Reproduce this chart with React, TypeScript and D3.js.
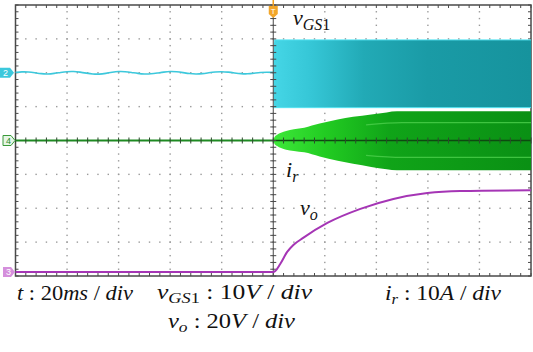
import React from "react";
import * as d3 from "d3";

// Screen geometry: 10 horizontal divisions x 8 vertical divisions
const W = 533;
const H = 352;
const L = 15.5;
const R = 531;
const T = 5;
const B = 276;

// Time base: 20 ms/div, trigger at the centre (100 ms)
const timeDomain = [0, 200];
const triggerTime = 100;

// Channel settings (offset in divisions, units per division)
const ch2 = { offset: 2.0, perDiv: 10 }; // vGS1, 10 V/div
const ch4 = { offset: 0.0, perDiv: 10 }; // ir, 10 A/div
const ch3 = { offset: -3.88, perDiv: 20 }; // vo, 20 V/div

// vGS1 before start-up: small ripple around 0 V (time in ms, value in V)
const vgsRippleT = [0, 2.5, 5, 7.5, 10, 12.5, 15, 17.5, 20, 22.5, 25, 27.5, 30, 32.5, 35, 37.5, 40, 42.5, 45, 47.5, 50, 52.5, 55, 57.5, 60, 62.5, 65, 67.5, 70, 72.5, 75, 77.5, 80, 82.5, 85, 87.5, 90, 92.5, 95, 97.5, 100];
const vgsRippleV = [0.1, 0.3, 0.25, 0.0, -0.3, -0.4, -0.2, 0.1, 0.35, 0.4, 0.2, -0.1, -0.4, -0.45, -0.2, 0.15, 0.4, 0.35, 0.1, -0.2, -0.4, -0.35, -0.1, 0.2, 0.4, 0.3, 0.05, -0.25, -0.4, -0.3, 0.0, 0.25, 0.35, 0.2, -0.05, -0.3, -0.35, -0.15, 0.1, 0.2, 0.1];

// vGS1 after start-up: switching band, high and low levels (V)
const vgsBandT = [100, 100.4, 200];
const vgsBandHigh = [6.0, 9.7, 9.7];
const vgsBandLow = [-7.0, -10.3, -10.3];

// ir envelope after start-up (time in ms, current in A)
const irT = [0, 100, 100.5, 101.5, 103, 105, 108, 112, 118, 125, 131, 138, 144, 148, 200];
const irUpper = [0, 0, 1.0, 1.7, 2.3, 2.8, 3.3, 3.8, 5.0, 6.2, 7.0, 7.7, 8.3, 8.6, 8.6];
const irLower = [0, 0, -1.0, -1.6, -2.2, -2.7, -3.1, -3.5, -4.7, -6.0, -6.9, -7.8, -8.5, -8.8, -8.8];

// Lighter inner traces inside the ir band
const irInnerT = [136, 150, 200];
const irInnerUpper = [4.6, 5.3, 5.3];
const irInnerLower = [-4.4, -5.0, -5.0];

// Output voltage vo (time in ms, value in V)
const voT = [0, 100, 100.8, 102.7, 105.4, 107.8, 111.6, 121, 133.8, 146.6, 159.8, 172.6, 200];
const voV = [0, 0, 0.6, 4.7, 11.8, 15.9, 20.1, 28.9, 37.2, 43.1, 46.6, 47.8, 48.2];

const FONT = "'Liberation Serif', 'Times New Roman', serif";

export default function App() {
  const x = d3.scaleLinear().domain(timeDomain).range([L, R]);
  const yDiv = d3.scaleLinear().domain([-4, 4]).range([B, T]);
  const yCh = (ch: { offset: number; perDiv: number }) => (v: number) =>
    yDiv(ch.offset + v / ch.perDiv);
  const y2 = yCh(ch2);
  const y4 = yCh(ch4);
  const y3 = yCh(ch3);

  const xTrig = x(triggerTime);
  const yMid = yDiv(0);

  // Grid: dotted lines at each division, dots every 1/5 division
  const divX = d3.range(0, 11).map((i) => L + (i * (R - L)) / 10);
  const divY = d3.range(0, 9).map((i) => T + (i * (B - T)) / 8);
  const minorX = d3.range(0, 51).map((i) => L + (i * (R - L)) / 50);
  const minorY = d3.range(0, 41).map((i) => T + (i * (B - T)) / 40);

  const gridDots: JSX.Element[] = [];
  divY.slice(1, -1).forEach((gy, j) => {
    minorX.slice(1, -1).forEach((mx, i) => {
      gridDots.push(<rect key={`h${j}-${i}`} x={mx - 0.7} y={gy - 0.7} width={1.4} height={1.4} fill="#9a9a9a" />);
    });
  });
  divX.slice(1, -1).forEach((gx, j) => {
    minorY.slice(1, -1).forEach((my, i) => {
      gridDots.push(<rect key={`v${j}-${i}`} x={gx - 0.7} y={my - 0.7} width={1.4} height={1.4} fill="#9a9a9a" />);
    });
  });

  const ripple = d3
    .line<number>()
    .x((_, i) => x(vgsRippleT[i]))
    .y((d) => y2(d))
    .curve(d3.curveBasis)(vgsRippleV);

  const vgsArea = d3
    .area<number>()
    .x((_, i) => x(vgsBandT[i]))
    .y0((_, i) => y2(vgsBandLow[i]))
    .y1((d) => y2(d))(vgsBandHigh);

  const irArea = d3
    .area<number>()
    .x((_, i) => x(irT[i]))
    .y0((_, i) => y4(irLower[i]))
    .y1((d) => y4(d))
    .curve(d3.curveMonotoneX)(irUpper);

  const innerLine = (vals: number[]) =>
    d3
      .line<number>()
      .x((_, i) => x(irInnerT[i]))
      .y((d) => y4(d))
      .curve(d3.curveMonotoneX)(vals);

  const voLine = d3
    .line<number>()
    .x((_, i) => x(voT[i]))
    .y((d) => y3(d))
    .curve(d3.curveMonotoneX)(voV);

  return (
    <svg width={W} height={H} style={{ display: "block", position: "absolute", left: 0, top: 0, background: "#fff" }}>
      <defs>
        <linearGradient id="cyanGrad" gradientUnits="userSpaceOnUse" x1={xTrig} x2={R} y1={0} y2={0}>
          <stop offset="0" stopColor="#45d6e6" />
          <stop offset="0.15" stopColor="#35c6d6" />
          <stop offset="0.35" stopColor="#22aab6" />
          <stop offset="0.6" stopColor="#1a9ba6" />
          <stop offset="1" stopColor="#16939d" />
        </linearGradient>
        <linearGradient id="greenGrad" gradientUnits="userSpaceOnUse" x1={xTrig} x2={R} y1={0} y2={0}>
          <stop offset="0" stopColor="#3ee83a" />
          <stop offset="0.2" stopColor="#22cc22" />
          <stop offset="0.45" stopColor="#10a418" />
          <stop offset="1" stopColor="#0a9014" />
        </linearGradient>
      </defs>

      {gridDots}

      {/* border */}
      <rect x={L} y={T} width={R - L} height={B - T} fill="none" stroke="#4a4a4a" strokeWidth={1.5} />
      {/* border ticks */}
      {minorX.map((mx, i) => (
        <g key={`bt${i}`}>
          <line x1={mx} x2={mx} y1={T} y2={T + 3} stroke="#4a4a4a" strokeWidth={1} />
          <line x1={mx} x2={mx} y1={B} y2={B - 3} stroke="#4a4a4a" strokeWidth={1} />
        </g>
      ))}
      {minorY.map((my, i) => (
        <g key={`bl${i}`}>
          <line x1={L} x2={L + 3} y1={my} y2={my} stroke="#4a4a4a" strokeWidth={1} />
          <line x1={R} x2={R - 3} y1={my} y2={my} stroke="#4a4a4a" strokeWidth={1} />
        </g>
      ))}

      {/* vGS1 trace */}
      <path d={ripple || ""} fill="none" stroke="#3cc8dc" strokeWidth={1.6} />
      <path d={vgsArea || ""} fill="url(#cyanGrad)" />
      <line x1={xTrig} x2={R} y1={y2(9.7)} y2={y2(9.7)} stroke="#55e4f2" strokeWidth={1} />
      <line x1={xTrig} x2={R} y1={y2(-10.3)} y2={y2(-10.3)} stroke="#55e4f2" strokeWidth={1} />

      {/* ir trace */}
      <path d={irArea || ""} fill="url(#greenGrad)" />
      <path d={innerLine(irInnerUpper) || ""} fill="none" stroke="#4cd04c" strokeWidth={1.2} opacity={0.8} />
      <path d={innerLine(irInnerLower) || ""} fill="none" stroke="#4cd04c" strokeWidth={1.2} opacity={0.8} />
      <line x1={L} x2={xTrig} y1={y4(0)} y2={y4(0)} stroke="#1e8a22" strokeWidth={2} />
      <line x1={xTrig} x2={R} y1={y4(0)} y2={y4(0)} stroke="#0d4a10" strokeWidth={1.5} />

      {/* centre axes with minor ticks */}
      <line x1={xTrig} x2={xTrig} y1={T} y2={B} stroke="#4a4a4a" strokeWidth={1} />
      {minorY.map((my, i) => (
        <line key={`cy${i}`} x1={xTrig - 3} x2={xTrig + 3} y1={my} y2={my} stroke="#4a4a4a" strokeWidth={1} />
      ))}
      {minorX.map((mx, i) => (
        <line key={`cx${i}`} x1={mx} x2={mx} y1={yMid - 3} y2={yMid + 3} stroke="#2f4a2f" strokeWidth={1} />
      ))}

      {/* vo trace */}
      <path d={voLine || ""} fill="none" stroke="#a535b5" strokeWidth={2} />

      {/* channel markers */}
      <path d={`M0,${y2(0) - 5} H10 L14,${y2(0)} L10,${y2(0) + 5} H0 Z`} fill="#3cc8dc" />
      <text x={5.5} y={y2(0) + 3.5} fontSize={9} fontFamily="Arial, sans-serif" fill="#fff" textAnchor="middle">2</text>
      <path d={`M3,${y4(0) - 5} H11 L15,${y4(0)} L11,${y4(0) + 5} H3 Z`} fill="#e6f6e6" stroke="#3a9a3a" strokeWidth={1} />
      <text x={8.5} y={y4(0) + 3.5} fontSize={9} fontFamily="Arial, sans-serif" fill="#2a8a2a" textAnchor="middle">4</text>
      <path d={`M3,${y3(0) - 5} H11 L15,${y3(0)} L11,${y3(0) + 5} H3 Z`} fill="#d58fdc" />
      <text x={8.5} y={y3(0) + 3.5} fontSize={9} fontFamily="Arial, sans-serif" fill="#fff" textAnchor="middle">3</text>

      {/* trigger marker */}
      <line x1={xTrig} x2={xTrig} y1={0} y2={6} stroke="#f0a020" strokeWidth={1.5} />
      <path d={`M${xTrig - 4.5},${T + 1} H${xTrig + 4.5} V${T + 9} L${xTrig},${T + 13} L${xTrig - 4.5},${T + 9} Z`} fill="#f2a62a" />
      <text x={xTrig} y={T + 9} fontSize={8} fontFamily="Arial, sans-serif" fill="#fff" textAnchor="middle">T</text>

      {/* trace labels */}
      <text x={293} y={25} fontFamily={FONT} fontSize={22} fill="#111">
        <tspan fontStyle="italic">v</tspan>
        <tspan fontStyle="italic" fontSize={16} dy={5}>GS</tspan>
        <tspan fontSize={16}>1</tspan>
      </text>
      <text x={286} y={177} fontFamily={FONT} fontSize={22} fill="#111">
        <tspan fontStyle="italic">i</tspan>
        <tspan fontStyle="italic" fontSize={16} dy={5}>r</tspan>
      </text>
      <text x={300} y={215} fontFamily={FONT} fontSize={22} fill="#111">
        <tspan fontStyle="italic">v</tspan>
        <tspan fontStyle="italic" fontSize={16} dy={5}>o</tspan>
      </text>

      {/* scale labels */}
      <text x={17} y={300} fontFamily={FONT} fontSize={21} fill="#111" textLength={116} lengthAdjust="spacingAndGlyphs">
        <tspan fontStyle="italic">t</tspan>
        <tspan> : 20</tspan>
        <tspan fontStyle="italic">ms</tspan>
        <tspan> / </tspan>
        <tspan fontStyle="italic">div</tspan>
      </text>
      <text x={157} y={299} fontFamily={FONT} fontSize={21} fill="#111" textLength={155} lengthAdjust="spacingAndGlyphs">
        <tspan fontStyle="italic">v</tspan>
        <tspan fontStyle="italic" fontSize={15} dy={4}>GS</tspan>
        <tspan fontSize={15}>1</tspan>
        <tspan dy={-4}> : 10</tspan>
        <tspan fontStyle="italic">V</tspan>
        <tspan> / </tspan>
        <tspan fontStyle="italic">div</tspan>
      </text>
      <text x={385} y={300} fontFamily={FONT} fontSize={21} fill="#111" textLength={116} lengthAdjust="spacingAndGlyphs">
        <tspan fontStyle="italic">i</tspan>
        <tspan fontStyle="italic" fontSize={15} dy={4}>r</tspan>
        <tspan dy={-4}> : 10</tspan>
        <tspan fontStyle="italic">A</tspan>
        <tspan> / </tspan>
        <tspan fontStyle="italic">div</tspan>
      </text>
      <text x={168} y={328} fontFamily={FONT} fontSize={21} fill="#111" textLength={127} lengthAdjust="spacingAndGlyphs">
        <tspan fontStyle="italic">v</tspan>
        <tspan fontStyle="italic" fontSize={15} dy={4}>o</tspan>
        <tspan dy={-4}> : 20</tspan>
        <tspan fontStyle="italic">V</tspan>
        <tspan> / </tspan>
        <tspan fontStyle="italic">div</tspan>
      </text>
    </svg>
  );
}
